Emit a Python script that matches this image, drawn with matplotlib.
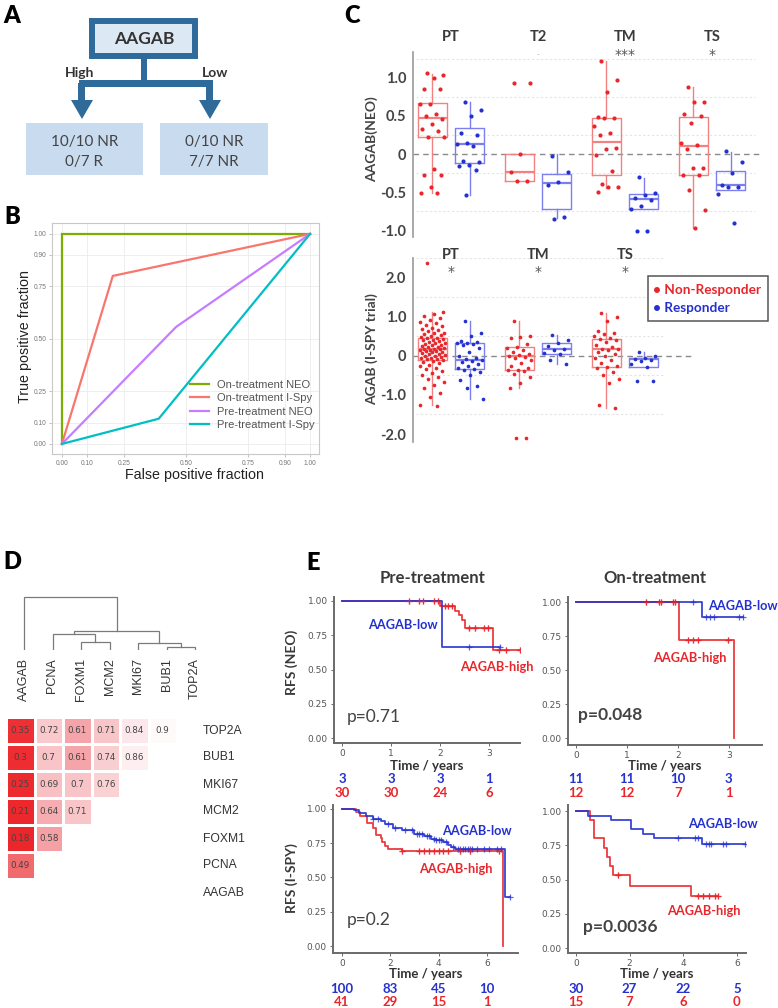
import numpy as np
import matplotlib
matplotlib.use('Agg')
import matplotlib.pyplot as plt
import matplotlib.transforms as mtransforms
from matplotlib.patches import Rectangle, Polygon
from matplotlib.colors import LinearSegmentedColormap

plt.rcParams['font.family'] = ['Lato', 'DejaVu Sans']

# ======================= DATA =======================
# --- A: decision tree
tree_root = 'AAGAB'
tree_branches = ['High', 'Low']
tree_leaves = [['10/10 NR', '0/7 R'], ['0/10 NR', '7/7 NR']]

# --- B: ROC curves
roc_labels = ['On-treatment NEO', 'On-treatment I-Spy', 'Pre-treatment NEO', 'Pre-treatment I-Spy']
roc_fpr = [[0, 0, 1], [0, 0.205, 1], [0, 0.46, 1], [0, 0.39, 1]]
roc_tpr = [[0, 1, 1], [0, 0.80, 1], [0, 0.557, 1], [0, 0.12, 1]]
roc_colors = ['#7CAE00', '#F8766D', '#C77CFF', '#00BFC4']
roc_ticks = [0, 0.10, 0.25, 0.50, 0.75, 0.90, 1.00]

# --- C top: NEO trial
neo_groups = ['PT', 'T2', 'TM', 'TS']
neo_sig = ['', '-', '***', '*']
neo_nr = [
    [1.06, 1.04, 1.0, 0.85, 0.85, 0.66, 0.66, 0.53, 0.50, 0.46, 0.39, 0.33, 0.30, 0.23, 0.23, -0.20, -0.27, -0.27, -0.44, -0.51, -0.51],
    [0.94, 0.94, 0.0, -0.24, -0.36, -0.36],
    [1.22, 0.97, 0.82, 0.49, 0.48, 0.47, 0.37, 0.27, 0.25, 0.08, 0.07, -0.01, -0.23, -0.39, -0.44, -0.44, -0.50],
    [0.88, 0.69, 0.68, 0.52, 0.50, 0.41, 0.14, 0.12, 0.06, -0.18, -0.19, -0.28, -0.28, -0.48, -0.74, -0.98],
]
neo_r = [
    [0.69, 0.58, 0.50, 0.28, 0.25, 0.14, 0.13, 0.10, -0.09, -0.11, -0.14, -0.16, -0.21, -0.54],
    [-0.02, -0.24, -0.37, -0.41, -0.83, -0.85],
    [-0.30, -0.51, -0.54, -0.58, -0.60, -0.69, -0.73, -1.01, -1.01],
    [0.04, -0.11, -0.25, -0.41, -0.43, -0.44, -0.52, -0.91],
]
# box stats: (q1, median, q3, whisker low, whisker high)
neo_box_nr = [(0.23, 0.47, 0.67, -0.51, 1.05), (-0.36, -0.24, 0.0, -0.36, 0.0),
              (-0.27, 0.16, 0.48, -0.45, 1.22), (-0.28, 0.10, 0.49, -0.98, 0.88)]
neo_box_r = [(-0.12, 0.13, 0.34, -0.54, 0.68), (-0.73, -0.38, -0.26, -0.84, 0.0),
             (-0.72, -0.59, -0.52, -0.72, -0.31), (-0.47, -0.41, -0.22, -0.47, 0.03)]

# --- C bottom: I-SPY trial
isp_groups = ['PT', 'TM', 'TS']
isp_sig = ['*', '*', '*']
isp_nr = [
    [2.38, 1.12, 1.08, 1.02, 0.98, 0.93, 0.88, 0.84, 0.80, 0.76, 0.72, 0.69, 0.66, 0.63, 0.60, 0.58, 0.55,
     0.53, 0.51, 0.49, 0.47, 0.45, 0.44, 0.42, 0.40, 0.38, 0.36, 0.34, 0.32, 0.30, 0.29, 0.27, 0.25, 0.24,
     0.22, 0.21, 0.19, 0.18, 0.17, 0.16, 0.15, 0.13, 0.12, 0.10, 0.09, 0.07, 0.06, 0.04, 0.03, 0.01, 0.0,
     -0.02, -0.04, -0.05, -0.07, -0.09, -0.11, -0.13, -0.16, -0.19, -0.22, -0.26, -0.30, -0.34, -0.38,
     -0.43, -0.48, -0.54, -0.60, -0.68, -0.75, -0.82, -0.95, -1.05, -1.26, -1.28],
    [0.89, 0.50, 0.48, 0.45, 0.30, 0.22, 0.20, 0.15, 0.10, 0.05, 0.02, 0.0, -0.02, -0.05, -0.10, -0.18,
     -0.25, -0.30, -0.35, -0.37, -0.38, -0.45, -0.55, -0.70, -0.83, -2.11, -2.11],
    [1.09, 1.0, 0.90, 0.65, 0.60, 0.55, 0.50, 0.45, 0.43, 0.40, 0.35, 0.28, 0.22, 0.18, 0.17, 0.15, 0.10,
     0.05, 0.0, -0.05, -0.10, -0.18, -0.25, -0.29, -0.32, -0.40, -0.50, -0.60, -0.70, -1.25, -1.33],
]
isp_r = [
    [0.89, 0.60, 0.52, 0.38, 0.36, 0.34, 0.32, 0.30, 0.28, 0.20, 0.10, 0.0, -0.05, -0.08, -0.10, -0.12,
     -0.15, -0.20, -0.25, -0.30, -0.33, -0.36, -0.42, -0.50, -0.62, -0.78, -0.82, -1.11],
    [0.54, 0.40, 0.32, 0.25, 0.19, 0.15, 0.08, 0.04, -0.10, -0.20],
    [0.10, 0.0, -0.05, -0.09, -0.10, -0.12, -0.20, -0.29, -0.65, -0.65],
]
isp_box_nr = [(-0.11, 0.17, 0.45, -1.26, 1.12), (-0.37, 0.0, 0.22, -0.83, 0.89), (-0.29, 0.17, 0.43, -1.33, 1.09)]
isp_box_r = [(-0.33, -0.10, 0.34, -1.11, 0.89), (0.04, 0.19, 0.32, -0.20, 0.54), (-0.29, -0.09, -0.04, -0.29, 0.10)]

# --- D: dendrogram + correlation heatmap
genes = ['AAGAB', 'PCNA', 'FOXM1', 'MCM2', 'MKI67', 'BUB1', 'TOP2A']
# links: (x_left, h_left, x_right, h_right, h_merge)
dend_links = [(2, 0, 3, 0, 8), (5, 0, 6, 0, 3), (1, 0, 2.5, 8, 16), (4, 0, 5.5, 3, 7),
              (1.75, 16, 4.75, 7, 19), (0, 0, 3.25, 19, 53)]
heat_rows = ['TOP2A', 'BUB1', 'MKI67', 'MCM2', 'FOXM1', 'PCNA', 'AAGAB']
heat_vals = [
    [0.35, 0.72, 0.61, 0.71, 0.84, 0.9],
    [0.3, 0.7, 0.61, 0.74, 0.86],
    [0.25, 0.69, 0.7, 0.76],
    [0.21, 0.64, 0.71],
    [0.18, 0.58],
    [0.49],
    [],
]

# --- E: Kaplan-Meier curves  (event times, survival after event, end time, censor times)
km_pre_neo_low = ([0, 2.04], [1.0, 0.667], 3.22, [2.59, 3.22])
km_pre_neo_high = ([0, 2.0, 2.30, 2.38, 2.45, 2.50, 3.08], [1.0, 0.965, 0.93, 0.895, 0.86, 0.80, 0.64], 3.64,
                   [1.37, 1.57, 1.65, 1.88, 1.95, 2.10, 2.17, 2.24, 2.6, 2.72, 2.9, 2.98, 3.2, 3.35, 3.62])
km_on_neo_low = ([0, 2.47], [1.0, 0.89], 3.27, [2.29, 2.55, 2.62, 2.7, 3.2, 3.27])
km_on_neo_high = ([0, 2.02, 3.1], [1.0, 0.72, 0.0], 3.1, [1.38, 1.62, 1.66, 1.9, 1.95, 2.2, 2.3, 2.4, 2.98])
km_pre_isp_low = ([0, 0.5, 0.7, 1.0, 1.3, 1.6, 1.8, 2.1, 2.5, 3.0, 3.4, 3.7, 3.9, 4.2, 4.4, 4.5, 4.7, 6.75],
                  [1.0, 0.99, 0.97, 0.95, 0.93, 0.91, 0.89, 0.86, 0.85, 0.82, 0.80, 0.78, 0.77, 0.76, 0.74, 0.72, 0.71, 0.355],
                  6.97,
                  [1.3, 1.5, 1.9, 2.2, 2.6, 2.9, 3.1, 3.2, 3.3, 3.5, 3.6, 3.8, 3.9, 4.0, 4.1, 4.3, 4.6, 4.8, 4.9,
                   5.0, 5.1, 5.2, 5.3, 5.4, 5.6, 5.9, 6.1, 6.4, 6.6, 6.95])
km_pre_isp_high = ([0, 0.56, 0.75, 1.05, 1.3, 1.4, 1.6, 1.65, 1.8, 1.9, 2.5, 6.68],
                   [1.0, 0.976, 0.95, 0.90, 0.86, 0.81, 0.79, 0.76, 0.73, 0.71, 0.69, 0.0], 6.68,
                   [2.5, 3.2, 3.4, 3.6, 3.8, 4.0, 4.2, 4.4, 4.9, 5.3, 6.5])
km_on_isp_low = ([0, 0.46, 1.3, 2.05, 2.5, 2.9, 4.7], [1.0, 0.967, 0.933, 0.867, 0.833, 0.80, 0.758], 6.3,
                 [3.8, 4.45, 4.55, 4.85, 4.95, 5.05, 5.5, 5.6, 6.3])
km_on_isp_high = ([0, 0.52, 0.68, 1.04, 1.14, 1.26, 1.38, 2.02, 4.28],
                  [1.0, 0.933, 0.80, 0.733, 0.667, 0.60, 0.533, 0.456, 0.38], 5.3,
                  [1.55, 4.55, 4.75, 4.95, 5.2, 5.3])
risk_pre_neo = ([0, 1, 2, 3], [3, 3, 3, 1], [30, 30, 24, 6])
risk_on_neo = ([0, 1, 2, 3], [11, 11, 10, 3], [12, 12, 7, 1])
risk_pre_isp = ([0, 2, 4, 6], [100, 83, 45, 10], [41, 29, 15, 1])
risk_on_isp = ([0, 2, 4, 6], [30, 27, 22, 5], [15, 7, 6, 0])
pvals = ['p=0.71', 'p=0.048', 'p=0.2', 'p=0.0036']

# ======================= FIGURE =======================
W, H = 778, 1008
fig = plt.figure(figsize=(W / 100, H / 100), dpi=100)
NARROW = ['Liberation Sans Narrow', 'DejaVu Sans']
ARIAL = ['Liberation Sans', 'DejaVu Sans']


def axpx(x0, y0, x1, y1):
    return fig.add_axes([x0 / W, 1 - y1 / H, (x1 - x0) / W, (y1 - y0) / H])


def ftext(x, y, s, **kw):
    return fig.text(x / W, 1 - y / H, s, **kw)


RED = '#E8262B'
BLUE = '#2431D0'
RED_BOX = '#F28282'
BLUE_BOX = '#7C7FEE'
DARK = '#3A3A3A'

# overlay axes in pixel coordinates
ov = fig.add_axes([0, 0, 1, 1])
ov.set_xlim(0, W)
ov.set_ylim(H, 0)
ov.axis('off')
ov.set_zorder(6)

# panel letters
for lab, (x, y) in zip('ABCDE', [(12, 16), (12, 217), (352, 16), (12, 562), (313, 563)]):
    ftext(x, y, lab, ha='center', va='center', fontsize=17, fontweight='heavy', color='black')

# ---------------- A ----------------
DB = '#2E6A9A'
ov.add_patch(Rectangle((92, 21), 103, 35, fc='#DCE8F4', ec=DB, lw=4.3))
ov.text(144, 39, tree_root, ha='center', va='center', fontsize=12.5, fontweight='bold', color='#333333')
ov.add_patch(Rectangle((141, 58), 6, 26, fc=DB, ec='none'))
ov.add_patch(Rectangle((79, 80), 134, 7, fc=DB, ec='none'))
for cx in (82, 210):
    ov.add_patch(Rectangle((cx - 3.5, 83), 7, 18, fc=DB, ec='none'))
    ov.add_patch(Polygon([(cx - 11, 100), (cx + 11, 100), (cx, 119)], closed=True, fc=DB, ec='none'))
ov.text(80, 73, tree_branches[0], ha='center', va='center', fontsize=10, fontweight='bold', color='#333333')
ov.text(215, 73, tree_branches[1], ha='center', va='center', fontsize=10, fontweight='bold', color='#333333')
for (bx0, bx1), leaf in zip([(26, 143), (160, 268)], tree_leaves):
    ov.add_patch(Rectangle((bx0, 123), bx1 - bx0, 52, fc='#C9DCEF', ec='none'))
    cxm = (bx0 + bx1) / 2
    ov.text(cxm, 142, leaf[0], ha='center', va='center', fontsize=11, color='#444444')
    ov.text(cxm, 162, leaf[1], ha='center', va='center', fontsize=11, color='#444444')

# ---------------- B ----------------
axB = axpx(52, 223, 319, 454)
axB.set_xlim(-0.040, 1.036)
axB.set_ylim(-0.048, 1.052)
for xs, ys, c, l in zip(roc_fpr, roc_tpr, roc_colors, roc_labels):
    axB.plot(xs, ys, color=c, lw=1.6, label=l, solid_joinstyle='miter')
axB.set_xticks(roc_ticks)
axB.set_yticks(roc_ticks)
axB.set_xticklabels([f'{t:.2f}' for t in roc_ticks], fontsize=4.8, color='#777777', family=ARIAL)
axB.set_yticklabels([f'{t:.2f}' for t in roc_ticks], fontsize=4.8, color='#777777', family=ARIAL)
axB.tick_params(length=2, width=0.5, color='#AAAAAA', pad=2)
axB.grid(True, color='#EBEBEB', lw=0.6)
axB.set_axisbelow(True)
for sp in axB.spines.values():
    sp.set_color('#C8C8C8')
    sp.set_linewidth(0.8)
ftext(25, 337, 'True positive fraction', rotation=90, ha='center', va='center', fontsize=10.3,
      color='#222222', family=ARIAL)
ftext(195, 475, 'False positive fraction', ha='center', va='center', fontsize=10.3, color='#222222', family=ARIAL)
axB.legend(loc='upper left', bbox_to_anchor=(190 / W, 1 - 380 / H), bbox_transform=fig.transFigure,
           frameon=False, prop={'family': ARIAL, 'size': 8}, labelcolor='#555555',
           handlelength=1.7, handletextpad=0.7, labelspacing=0.3, borderpad=0, borderaxespad=0)


# ---------------- C ----------------
def jit(n, w=0.30):
    return ((np.arange(n) * 0.618034 + 0.31) % 1 - 0.5) * w


def box_panel(ax, groups, nr, r, box_nr, box_r, ms):
    pos_nr = np.arange(len(groups)) - 0.215
    pos_r = np.arange(len(groups)) + 0.215
    for stats_list, pos, col in [(box_nr, pos_nr, RED_BOX), (box_r, pos_r, BLUE_BOX)]:
        bstats = [dict(q1=q1, med=m, q3=q3, whislo=lo, whishi=hi, fliers=[]) for (q1, m, q3, lo, hi) in stats_list]
        ax.bxp(bstats, positions=pos, widths=0.33, showcaps=False, showfliers=False, manage_ticks=False,
               boxprops=dict(color=col, lw=1.0), whiskerprops=dict(color=col, lw=1.0),
               medianprops=dict(color=col, lw=1.6))
    for vals_list, pos, col in [(nr, pos_nr, RED), (r, pos_r, BLUE)]:
        for v, p in zip(vals_list, pos):
            ax.scatter(p + jit(len(v)), v, s=ms, color=col, lw=0, zorder=3)


STAR = ['DejaVu Sans']

axC1 = axpx(413, 52, 765, 237)
axC1.set_xlim(-0.437, 3.61)
axC1.set_ylim(-1.092, 1.342)
for gy in [1.25, 0.75, 0.25, -0.25, -0.75]:
    axC1.plot([-0.40, 3.50], [gy, gy], color='#E4E4E4', lw=0.8, ls=(0, (2, 2)), zorder=0)
axC1.plot([-0.437, 3.57], [0, 0], color='#8A8A8A', lw=1.0, ls=(0, (4, 3)), zorder=1)
box_panel(axC1, neo_groups, neo_nr, neo_r, neo_box_nr, neo_box_r, 9)
trC1 = axC1.get_xaxis_transform()
for i, (g, s) in enumerate(zip(neo_groups, neo_sig)):
    axC1.text(i, 1.081, g, transform=trC1, ha='center', va='center', fontsize=10.5, fontweight='bold',
              color=DARK, clip_on=False)
    if s:
        axC1.text(i, 0.985, s, transform=trC1, ha='center', va='center', fontsize=10 if s != '-' else 6,
                  color='#555555' if s != '-' else '#C0C0C0', family=STAR, clip_on=False)

axC2 = axpx(413, 258, 765, 442)
axC2.set_xlim(-0.437, 3.61)
axC2.set_ylim(-2.205, 2.51)
for gy in [2.5, 1.5, 0.5, -0.5, -1.5]:
    axC2.plot([-0.40, 2.46], [gy, gy], color='#E4E4E4', lw=0.8, ls=(0, (2, 2)), zorder=0)
axC2.plot([-0.437, 2.76], [0, 0], color='#8A8A8A', lw=1.0, ls=(0, (4, 3)), zorder=1)
box_panel(axC2, isp_groups, isp_nr, isp_r, isp_box_nr, isp_box_r, 7)
trC2 = axC2.get_xaxis_transform()
for i, (g, s) in enumerate(zip(isp_groups, isp_sig)):
    axC2.text(i, 1.016, g, transform=trC2, ha='center', va='center', fontsize=10.5, fontweight='bold',
              color=DARK, clip_on=False)
    axC2.text(i, 0.925, s, transform=trC2, ha='center', va='center', fontsize=10, color='#555555',
              family=STAR, clip_on=False)

for ax, ticks, labels in [(axC1, [1.0, 0.5, 0, -0.5, -1.0], ['1.0', '0.5', '0', '-0.5', '-1.0']),
                          (axC2, [2.0, 1.0, 0, -1.0, -2.0], ['2.0', '1.0', '0', '-1.0', '-2.0'])]:
    for k in ['top', 'right', 'bottom']:
        ax.spines[k].set_visible(False)
    ax.spines['left'].set_color('#9A9A9A')
    ax.spines['left'].set_linewidth(1.2)
    ax.set_xticks([])
    ax.set_yticks(ticks)
    ax.set_yticklabels(labels, fontsize=10.5, fontweight='bold', color='#444444')
    ax.tick_params(axis='y', length=0, pad=5)
    ax.patch.set_alpha(0)

ftext(372, 139, 'AAGAB(NEO)', rotation=90, ha='center', va='center', fontsize=10, fontweight='bold', color='#444444')
ftext(372, 349, 'AGAB (I-SPY trial)', rotation=90, ha='center', va='center', fontsize=10, fontweight='bold',
      color='#444444')
# legend box
ov.add_patch(Rectangle((648, 276), 120, 45, fc='white', ec='#555555', lw=1.1))
ov.text(653, 290, '\u2022 Non-Responder', ha='left', va='center', fontsize=9.8, fontweight='bold', color=RED)
ov.text(653, 308, '\u2022 Responder', ha='left', va='center', fontsize=9.8, fontweight='bold', color=BLUE)

# ---------------- D ----------------
axD = axpx(9.75, 590, 209.25, 650)
axD.set_xlim(-0.5, 6.5)
axD.set_ylim(0, 60)
axD.axis('off')
for (x1, h1, x2, h2, h) in dend_links:
    axD.plot([x1, x1, x2, x2], [h1, h, h, h2], color='#7A7A7A', lw=0.9, solid_joinstyle='miter')
for i, g in enumerate(genes):
    axD.text(i, -8, g, rotation=90, ha='center', va='top', fontsize=9, color='#333333', family=ARIAL)

cmap = LinearSegmentedColormap.from_list('corr', [
    (0.0, '#EA1E22'), (0.36, '#EE3035'), (0.49, '#F06A6E'), (0.58, '#F4A0A4'), (0.62, '#F5A6AA'),
    (0.70, '#F8C4C7'), (0.76, '#FAD2D4'), (0.86, '#FDEDEE'), (0.92, '#FFFFFF'), (1.0, '#FFFFFF')])
M = np.full((len(heat_rows), 6), np.nan)
for i, row in enumerate(heat_vals):
    for j, v in enumerate(row):
        M[i, j] = v
axH = axpx(6, 717, 177, 906)
axH.pcolormesh(np.arange(7), np.arange(8), np.ma.masked_invalid(M), cmap=cmap, vmin=0, vmax=1,
               edgecolors='white', linewidth=0.8)
axH.set_xlim(0, 6)
axH.set_ylim(7, 0)
axH.axis('off')
for i, row in enumerate(heat_vals):
    for j, v in enumerate(row):
        axH.text(j + 0.5, i + 0.5, f'{v:g}', ha='center', va='center', fontsize=6.3, color='#444444', family=NARROW)
for i, g in enumerate(heat_rows):
    axH.text(6.91, i + 0.5, g, ha='left', va='center', fontsize=8.7, color='#333333', family=ARIAL)


# ---------------- E ----------------
def km_draw(ax, curve, color, line=True, marks=True):
    t, s, t_end, cens = curve
    if line:
        ax.step(list(t) + [t_end], list(s) + [s[-1]], where='post', color=color, lw=1.3, alpha=0.9)
    if marks:
        cy = [s[np.searchsorted(t, c, side='right') - 1] for c in cens]
        ax.plot(cens, cy, '+', color=color, ms=5, mew=0.9, alpha=0.75, ls='none')


def km_panel(rect, xlim, ylim, xticks, low, high, risk, risk_y, pval, pbold, labpos, time_y):
    ax = axpx(*rect)
    ax.set_xlim(*xlim)
    ax.set_ylim(*ylim)
    km_draw(ax, high, RED)
    km_draw(ax, low, BLUE)
    km_draw(ax, high, RED, line=False)
    for k in ['top', 'right']:
        ax.spines[k].set_visible(False)
    for k in ['left', 'bottom']:
        ax.spines[k].set_color('#6A6A6A')
        ax.spines[k].set_linewidth(1.4)
    ax.set_xticks(xticks)
    ax.set_xticklabels([str(x) for x in xticks], fontsize=6.5, color='#555555', family=NARROW)
    yt = [0, 0.25, 0.5, 0.75, 1.0]
    ax.set_yticks(yt)
    ax.set_yticklabels([f'{v:.2f}' for v in yt], fontsize=6.5, color='#555555', family=NARROW)
    ax.tick_params(length=2.5, width=0.7, color='#6A6A6A', pad=2)
    cx = (rect[0] + rect[2]) / 2
    ftext(cx, time_y, 'Time / years', ha='center', va='center', fontsize=9.5, fontweight='bold', color='#333333')
    tr = mtransforms.blended_transform_factory(ax.transData, fig.transFigure)
    xs, blues, reds = risk
    for x, b, r in zip(xs, blues, reds):
        ax.text(x, 1 - risk_y[0] / H, str(b), transform=tr, ha='center', va='center', fontsize=9.5,
                fontweight='bold', color=BLUE, clip_on=False)
        ax.text(x, 1 - risk_y[1] / H, str(r), transform=tr, ha='center', va='center', fontsize=9.5,
                fontweight='bold', color=RED, clip_on=False)
    (lx, ly), (hx, hy), (px_, py_) = labpos
    ftext(lx, ly, 'AAGAB-low', ha='center', va='center', fontsize=9.2, fontweight='bold', color=BLUE)
    ftext(hx, hy, 'AAGAB-high', ha='center', va='center', fontsize=9.2, fontweight='bold', color=RED)
    ftext(px_, py_, pval, ha='left', va='center', fontsize=12.5, color='#444444',
          fontweight='bold' if pbold else 'normal')
    return ax


km_panel((334, 597, 520, 743), (-0.163, 3.63), (-0.036, 1.029), [0, 1, 2, 3], km_pre_neo_low, km_pre_neo_high,
         risk_pre_neo, (779, 793), pvals[0], False, [(403, 625), (497, 667), (347, 717)], 766)
km_panel((568, 597, 762, 745), (-0.157, 3.65), (-0.051, 1.037), [0, 1, 2, 3], km_on_neo_low, km_on_neo_high,
         risk_on_neo, (779, 793), pvals[1], True, [(743, 606), (690, 658), (578, 715)], 766)
km_panel((333, 805, 518, 953), (-0.375, 7.29), (-0.051, 1.029), [0, 2, 4, 6], km_pre_isp_low, km_pre_isp_high,
         risk_pre_isp, (989, 1002), pvals[2], False, [(477, 831), (456, 869), (347, 920)], 974)
km_panel((568, 805, 746, 953), (-0.30, 6.34), (-0.036, 1.044), [0, 2, 4, 6], km_on_isp_low, km_on_isp_high,
         risk_on_isp, (989, 1002), pvals[3], True, [(723, 824), (704, 911), (583, 927)], 974)

ftext(432, 578, 'Pre-treatment', ha='center', va='center', fontsize=12, fontweight='bold', color='#3A3A3A')
ftext(655, 578, 'On-treatment', ha='center', va='center', fontsize=12, fontweight='bold', color='#3A3A3A')
ftext(292, 662, 'RFS (NEO)', rotation=90, ha='center', va='center', fontsize=10, fontweight='bold', color='#3A3A3A')
ftext(292, 878, 'RFS (I-SPY)', rotation=90, ha='center', va='center', fontsize=10, fontweight='bold', color='#3A3A3A')

fig.savefig('out.png', dpi=100)
